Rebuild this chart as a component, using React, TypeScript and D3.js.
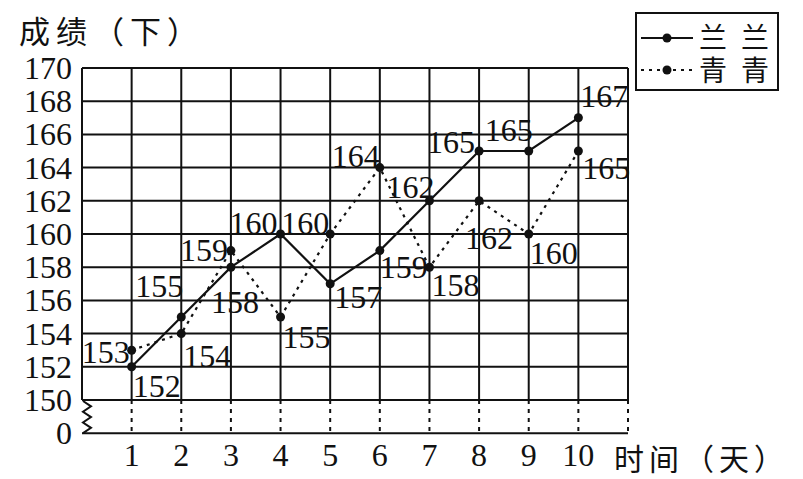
import { useEffect, useRef } from 'react';
import * as d3 from 'd3';

// days on the x axis
const days = [1, 2, 3, 4, 5, 6, 7, 8, 9, 10];
// 兰兰 (solid line)
const lanlan = [152, 155, 158, 160, 157, 159, 162, 165, 165, 167];
// 青青 (dotted line)
const qingqing = [153, 154, 159, 155, 160, 164, 158, 162, 160, 165];
const yTicks = [150, 152, 154, 156, 158, 160, 162, 164, 166, 168, 170];

// where each value label sits relative to its point: [dx, dy, anchor]
const lanlanLabelPos: [number, number, string][] = [
  [1, 19, 'start'], [2, -31, 'end'], [4, 35, 'middle'], [-3, -11, 'end'], [4, 13, 'start'],
  [0, 16, 'start'], [5, -14, 'end'], [-4, -9, 'end'], [4, -21, 'end'], [2, -22, 'start'],
];
const qingqingLabelPos: [number, number, string][] = [
  [-2, 2, 'end'], [2, 22, 'start'], [-3, -1, 'end'], [2, 20, 'start'], [-1, -11, 'end'],
  [0, -12, 'end'], [2, 18, 'start'], [10, 37, 'middle'], [1, 19, 'start'], [4, 17, 'start'],
];

const W = 803;
const H = 479;

export default function App() {
  const svgRef = useRef<SVGSVGElement>(null);

  useEffect(() => {
    if (!svgRef.current) return;
    const svg = d3.select(svgRef.current);
    svg.selectAll('*').remove();

    const serif = '"Liberation Serif", "DejaVu Serif", serif';
    const cjk = '"Noto Sans CJK SC", sans-serif';
    const numSize = 32;

    const x = d3.scaleLinear().domain([0, 11]).range([82, 628]);
    const y = d3.scaleLinear().domain([150, 170]).range([400, 68]);
    const yZero = y(148);

    const grid = svg.append('g').attr('stroke', '#111').attr('stroke-width', 2);

    // horizontal grid lines
    grid.selectAll('line.h')
      .data(yTicks)
      .enter()
      .append('line')
      .attr('x1', x(0))
      .attr('x2', x(11))
      .attr('y1', d => y(d))
      .attr('y2', d => y(d));

    // vertical grid lines
    grid.selectAll('line.v')
      .data(d3.range(0, 12))
      .enter()
      .append('line')
      .attr('x1', d => x(d))
      .attr('x2', d => x(d))
      .attr('y1', y(170))
      .attr('y2', y(150));

    // bottom axis at 0
    grid.append('line')
      .attr('x1', x(0))
      .attr('x2', x(11))
      .attr('y1', yZero)
      .attr('y2', yZero);

    // dotted drop lines below the break
    grid.selectAll('line.drop')
      .data(d3.range(1, 12))
      .enter()
      .append('line')
      .attr('x1', d => x(d))
      .attr('x2', d => x(d))
      .attr('y1', y(150))
      .attr('y2', yZero)
      .attr('stroke-dasharray', '4,5');

    // axis break zigzag
    const zx0 = x(0) + 1;
    const zx1 = x(0) + 9;
    const zy = d3.scaleLinear().domain([0, 6]).range([y(150) + 1, yZero]);
    const zig = d3.range(0, 7).map(i => [i % 2 === 0 ? zx0 : zx1, zy(i)] as [number, number]);
    svg.append('path')
      .attr('d', d3.line()(zig))
      .attr('fill', 'none')
      .attr('stroke', '#111')
      .attr('stroke-width', 2);

    // y tick labels
    svg.selectAll('text.ytick')
      .data(yTicks)
      .enter()
      .append('text')
      .attr('x', 72)
      .attr('y', d => y(d) + 11)
      .attr('text-anchor', 'end')
      .attr('font-family', serif)
      .attr('font-size', numSize)
      .attr('fill', '#111')
      .text(d => d);
    svg.append('text')
      .attr('x', 72)
      .attr('y', yZero + 11)
      .attr('text-anchor', 'end')
      .attr('font-family', serif)
      .attr('font-size', numSize)
      .attr('fill', '#111')
      .text('0');

    // x tick labels
    svg.selectAll('text.xtick')
      .data(days)
      .enter()
      .append('text')
      .attr('x', d => x(d))
      .attr('y', 466)
      .attr('text-anchor', 'middle')
      .attr('font-family', serif)
      .attr('font-size', numSize)
      .attr('fill', '#111')
      .text(d => d);

    // axis titles
    svg.append('text')
      .attr('x', 19)
      .attr('y', 43)
      .attr('font-family', cjk)
      .attr('font-size', 31)
      .attr('letter-spacing', 6)
      .attr('fill', '#111')
      .text('成绩（下）');
    svg.append('text')
      .attr('x', 614)
      .attr('y', 470)
      .attr('font-family', cjk)
      .attr('font-size', 30)
      .attr('letter-spacing', 5)
      .attr('fill', '#111')
      .text('时间（天）');

    // series
    const series = [
      { values: lanlan, dash: null as string | null, labels: lanlanLabelPos },
      { values: qingqing, dash: '3,5', labels: qingqingLabelPos },
    ];

    const line = d3.line<number>()
      .x((_, i) => x(days[i]))
      .y(d => y(d));

    series.forEach(s => {
      svg.append('path')
        .datum(s.values)
        .attr('fill', 'none')
        .attr('stroke', '#111')
        .attr('stroke-width', 2.2)
        .attr('stroke-dasharray', s.dash)
        .attr('d', line);

      svg.append('g')
        .selectAll('circle')
        .data(s.values)
        .enter()
        .append('circle')
        .attr('cx', (_, i) => x(days[i]))
        .attr('cy', d => y(d))
        .attr('r', 4.5)
        .attr('fill', '#111');
    });

    series.forEach(s => {
      svg.append('g')
        .selectAll('text')
        .data(s.values)
        .enter()
        .append('text')
        .attr('x', (_, i) => x(days[i]) + s.labels[i][0])
        .attr('y', (d, i) => y(d) + s.labels[i][1] + 11)
        .attr('text-anchor', (_, i) => s.labels[i][2])
        .attr('font-family', serif)
        .attr('font-size', numSize)
        .attr('fill', '#111')
        .text(d => d);
    });

    // legend
    const legend = svg.append('g');
    legend.append('rect')
      .attr('x', 636)
      .attr('y', 13)
      .attr('width', 142)
      .attr('height', 77)
      .attr('fill', 'white')
      .attr('stroke', '#111')
      .attr('stroke-width', 2);

    const legendItems = [
      { label: '兰兰', dash: null as string | null, cy: 38, base: 48 },
      { label: '青青', dash: '3,5', cy: 70, base: 81 },
    ];
    legendItems.forEach(item => {
      legend.append('line')
        .attr('x1', 641)
        .attr('x2', 693)
        .attr('y1', item.cy)
        .attr('y2', item.cy)
        .attr('stroke', '#111')
        .attr('stroke-width', 2.2)
        .attr('stroke-dasharray', item.dash);
      legend.append('circle')
        .attr('cx', 667)
        .attr('cy', item.cy)
        .attr('r', 4.5)
        .attr('fill', '#111');
      legend.append('text')
        .attr('x', 699)
        .attr('y', item.base)
        .attr('font-family', cjk)
        .attr('font-size', 28)
        .attr('letter-spacing', 14)
        .attr('fill', '#111')
        .text(item.label);
    });
  }, []);

  return (
    <svg
      ref={svgRef}
      width={W}
      height={H}
      style={{ position: 'absolute', left: 0, top: 0, background: 'white' }}
    />
  );
}
